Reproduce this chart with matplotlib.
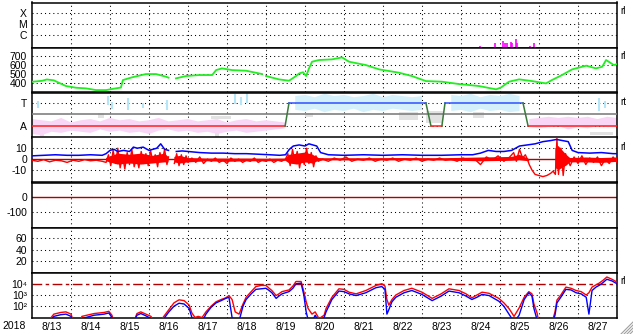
import numpy as np
import matplotlib.pyplot as plt
from matplotlib.lines import Line2D
from matplotlib.ticker import NullLocator

plt.rcParams['font.family'] = ['Liberation Sans', 'DejaVu Sans']

nan = np.nan

# time axis: days since 2018-08-13 00:00
day_labels = ['8/13', '8/14', '8/15', '8/16', '8/17', '8/18', '8/19', '8/20',
              '8/21', '8/22', '8/23', '8/24', '8/25', '8/26', '8/27']

# x-ray flare events (peak flux, W/m2)
flare_t = [11.49, 11.87, 12.08, 12.13, 12.18, 12.28, 12.31, 12.41, 12.44, 12.77, 12.87]
flare_v = [1.0e-7, 1.7e-7, 3.0e-7, 2.0e-7, 1.7e-7, 2.5e-7, 1.7e-7, 4.0e-7, 2.0e-7, 1.1e-7, 2.0e-7]

# solar wind speed (km/s)
sw_t = [0, 0.26, 0.38, 0.56, 0.69, 0.87, 1.13, 1.38, 1.64, 1.9,
        2.15, 2.28, 2.33, 2.56, 2.92, 3.18, 3.44, 3.5, 3.55, 3.69,
        3.95, 4.28, 4.62, 4.72, 4.87, 5.13, 5.49, 5.9, 5.95, 6.0,
        6.33, 6.59, 6.77, 6.85, 6.95, 7.03, 7.1, 7.18, 7.36, 7.69,
        7.95, 8.13, 8.56, 8.9, 9.41, 9.74, 10.1, 10.51, 10.95, 11.46,
        11.9, 12.03, 12.23, 12.49, 12.82, 13.18, 13.33, 13.59, 13.85, 14.21,
        14.46, 14.62, 14.72, 14.92, 15.0]
sw_v = [414, 425, 440, 430, 403, 367, 348, 341, 322, 322,
        341, 350, 433, 463, 500, 500, 470, 460, nan, 452,
        478, 489, 489, 544, 563, 544, 537, 500, nan, 478,
        441, 426, 478, 507, 520, 478, 560, 637, 656, 663,
        685, 637, 600, 552, 515, 478, 422, 415, 389, 367,
        330, 352, 415, 441, 422, 396, 433, 489, 552, 593,
        563, 581, 656, 600, 610]

# IMF sector: 1 = away, 3 = toward
sector_t = [0, 6.49, 6.59, 10.1, 10.23, 10.51, 10.59, 12.59, 12.72, 15]
sector_v = [1, 1, 3, 3, 1, 1, 3, 3, 1, 1]

# sector angle clouds on a 6-hour grid
cloud_t = np.arange(0, 15.01, 0.25)
pink_lo = [0.3, 0.2, 0.5, 0.4, 0.6, 0.5, 0.4, 0.7, 0.5, 0.6, 0.4, 0.5, 0.3, 0.6,
           0.7, 0.5, 0.6, 0.4, 0.5, 0.3, 0.5, 0.6, 0.4, 0.5, 0.6, 0.7, 0.8] + [nan] * 24 + \
          [0.9, 0.8, 0.9, 1.0, 0.7, 0.9, 0.8, 1.0, 0.9, 0.9]
pink_hi = [1.6, 1.5, 1.4, 1.7, 1.3, 1.5, 1.6, 1.4, 1.7, 1.5, 1.6, 1.4, 1.5, 1.7,
           1.4, 1.5, 1.6, 1.4, 1.5, 1.6, 1.3, 1.5, 1.6, 1.4, 1.5, 1.4, 1.3] + [nan] * 24 + \
          [1.6, 1.7, 1.8, 1.7, 1.8, 1.7, 1.8, 1.6, 1.8, 1.7]
cyan_lo = [nan] * 27 + [2.4, 2.3, 2.5, 2.2, 2.4, 2.3, 2.5, 2.2, 2.4, 2.3, 2.5, 2.4, 2.3, 2.4] + \
          [nan] * 2 + [2.3, 2.4, 2.2, 2.5, 2.3, 2.4, 2.2, 2.3] + [nan] * 10
cyan_hi = [nan] * 27 + [3.6, 3.7, 3.5, 3.8, 3.6, 3.7, 3.5, 3.6, 3.8, 3.5, 3.7, 3.6, 3.5, 3.6] + \
          [nan] * 2 + [3.7, 3.6, 3.8, 3.5, 3.7, 3.6, 3.8, 3.6] + [nan] * 10
cyan_spk_t = [0.15, 1.95, 2.05, 2.45, 2.85, 3.45, 5.2, 5.35, 5.5, 14.55, 14.7]
cyan_spk_lo = [2.6, 2.8, 2.5, 2.4, 2.6, 2.4, 2.9, 2.8, 3.0, 2.3, 2.6]
cyan_spk_hi = [3.2, 3.6, 3.1, 3.4, 3.0, 3.3, 3.8, 3.5, 3.9, 3.4, 3.2]
gray_t0 = [0.2, 1.7, 4.6, 4.7, 7.0, 9.4, 10.1, 11.3, 14.3]
gray_t1 = [0.3, 1.85, 5.1, 4.8, 7.2, 9.9, 10.55, 11.6, 14.9]
gray_lo = [0.1, 1.7, 1.6, 0.0, 1.8, 1.5, 1.3, 1.7, 0.2]
gray_hi = [0.6, 2.1, 1.9, 0.4, 2.1, 2.2, 2.3, 2.2, 0.5]

# IMF Bt (nT)
bt_t = [0, 0.3, 0.6, 0.9, 1.2, 1.5, 1.8, 1.9, 2.0, 2.1,
        2.2, 2.35, 2.5, 2.6, 2.7, 2.85, 3.0, 3.1, 3.2, 3.3,
        3.4, 3.5, 3.55, 3.7, 3.85, 4.0, 4.3, 4.6, 4.9, 5.2,
        5.5, 5.8, 6.1, 6.35, 6.5, 6.6, 6.7, 6.85, 7.0, 7.1,
        7.2, 7.3, 7.4, 7.6, 8.0, 8.5, 9.0, 9.5, 10.0, 10.5,
        11.0, 11.3, 11.5, 11.7, 11.9, 12.1, 12.3, 12.5, 12.7, 12.9,
        13.1, 13.3, 13.45, 13.6, 13.75, 13.85, 14.0, 14.3, 14.6, 14.9, 15.0]
bt_v = [3, 3.5, 4, 3.5, 3.5, 4, 3.5, 5, 8, 9,
        7, 8, 7, 11, 10, 11, 8, 9, 10, 14,
        9, 8, nan, 7, 7.5, 7, 6, 5.5, 5.5, 5,
        5, 4.5, 4, 3.5, 4, 9, 12, 13, 12, 14,
        13, 12, 6, 4, 3.5, 4, 3.5, 4, 3.5, 3.5,
        4, 4, 5.5, 8, 7, 7, 8, 12, 13, 14,
        16, 17, 18, 17, 16, 8, 6, 5.5, 6, 5, 5]

# IMF Bz (nT)
bz_t = [0, 0.15, 0.3, 0.45, 0.6, 0.75, 0.9, 1.05, 1.2, 1.35, 1.5, 1.65, 1.8,
        1.9, 1.96, 2.02, 2.08, 2.14, 2.2, 2.26, 2.32, 2.38, 2.44,
        2.5, 2.56, 2.62, 2.68, 2.74, 2.8, 2.86, 2.92, 2.98, 3.04,
        3.1, 3.16, 3.22, 3.28, 3.34, 3.4, 3.46, 3.5, 3.58, 3.65,
        3.71, 3.77, 3.83, 3.89, 3.95, 4.0,
        4.1, 4.2, 4.3, 4.4, 4.5, 4.6, 4.7, 4.8, 4.9, 5.0, 5.1, 5.2, 5.3,
        5.4, 5.5, 5.6, 5.7, 5.8, 5.9, 6.0, 6.1, 6.2, 6.3, 6.4, 6.5,
        6.56, 6.62, 6.68, 6.74, 6.8, 6.86, 6.92, 6.98, 7.04, 7.1, 7.16, 7.22, 7.28, 7.34,
        7.45, 7.6, 7.75, 7.9, 8.05, 8.2, 8.35, 8.5, 8.65, 8.8, 8.95, 9.1, 9.25,
        9.4, 9.55, 9.7, 9.85, 10.0, 10.15, 10.3, 10.45, 10.6, 10.75, 10.9, 11.05,
        11.2, 11.35, 11.5, 11.65, 11.8, 11.95, 12.1, 12.25,
        12.35, 12.42, 12.5, 12.58, 12.65, 12.7, 12.75, 12.82,
        12.9, 13.0, 13.1, 13.2, 13.3, 13.36, 13.42, 13.46, 13.5, 13.56, 13.62, 13.68, 13.74, 13.8,
        13.9, 14.0, 14.1, 14.2, 14.3, 14.4, 14.5, 14.6, 14.7, 14.8, 14.9, 15.0]
bz_v = [-1, -2, -0.5, -2.5, -1, -1.5, -3, -1, -2, -0.5, -1.5, -1, -2,
        -3, 4, -6, 8, -4, 10, -8, 3, -9, 6,
        -5, 9, -7, 2, -8, 7, -4, 5, -6, 8,
        -3, 4, -7, 6, -2, 9, -5, 2, nan, -4,
        5, -6, 4, -5, 3, -3,
        1, -3, 2, -4, 0, -2, 1, -3, -1, -4, 1, -2, 0,
        -3, -1, -2, 1, -3, -1, -2, 0, -3, -1, -2, 0,
        5, -6, 9, -3, 7, -8, 4, -5, 10, -4, 6, -7, 3, -2,
        0, -2, 1, -1, 2, -2, 0, -1, 1, -2, 0, -1, 1,
        -2, 0, -1, 1, -2, 0, -1, 1, -1, 0, -2, 1,
        -1, 0, -5, 2, -1, 3, -2, 2,
        6, -2, 9, 1, 4, 0, -5, -10,
        -14, -15, -16, -15, -13, -11, -14, 19, -14, 10, -15, 5, -1, -6,
        2, -4, 3, -5, 1, -3, 2, -6, 0, -4, 2, -3]
# dense core of the Bz scatter
bzenv_t = [1.9, 2.2, 2.5, 2.8, 3.1, 3.4, 3.5, 3.55, 3.65, 3.8,
           4.0, 4.5, 5.0, 5.5, 6.0, 6.5, 6.6, 6.8, 7.0, 7.2,
           7.35, 7.5, 8.5, 9.5, 10.5, 11.5, 12.3, 12.5, 12.75, 12.8,
           13.42, 13.5, 13.7, 13.8, 14.2, 14.6, 15.0]
bzenv_lo = [-2, -5, -4, -5, -4, -3, -3, nan, -3, -4,
            -3, -2, -2.5, -2, -2, -1.5, -4, -5, -3, -4,
            -1.5, -1, -1.2, -1, -1.2, -2, -1.5, -1, -2, nan,
            -8, -10, -6, -3, -3, -3.5, -2.5]
bzenv_hi = [1, 5, 4, 5, 3, 5, 2, nan, 2, 3,
            1, 0.5, 0.5, 0.5, 0.3, 0.5, 4, 5, 6, 4,
            1, 0.8, 0.8, 1, 0.8, 1.5, 2, 4, 0, nan,
            10, 12, 4, 1, 1.5, 1, 1.5]

# electron flux, log10 (values below 1 fall under the panel)
ef_t = [0, 0.45, 0.49, 0.56, 0.74, 0.87, 1.0, 1.05, 1.2, 1.28,
        1.59, 1.85, 1.97, 2.05, 2.1, 2.6, 2.69, 2.79, 2.92, 3.05,
        3.13, 3.26, 3.38, 3.51, 3.64, 3.77, 3.9, 4.03, 4.1, 4.18,
        4.26, 4.36, 4.46, 4.59, 4.72, 4.85, 4.97, 5.05, 5.13, 5.21,
        5.31, 5.41, 5.49, 5.62, 5.74, 5.87, 6.0, 6.08, 6.15, 6.26,
        6.33, 6.41, 6.59, 6.69, 6.77, 6.9, 6.97, 7.03, 7.08, 7.18,
        7.26, 7.36, 7.49, 7.54, 7.69, 7.87, 8.0, 8.13, 8.31, 8.56,
        8.82, 8.97, 9.05, 9.1, 9.15, 9.23, 9.33, 9.54, 9.74, 10.0,
        10.26, 10.49, 10.69, 10.95, 11.13, 11.28, 11.41, 11.54, 11.72, 11.97,
        12.1, 12.23, 12.36, 12.49, 12.62, 12.74, 12.82, 12.87, 12.95, 13.0,
        13.33, 13.41, 13.46, 13.56, 13.69, 13.82, 13.95, 14.08, 14.21, 14.28,
        14.36, 14.46, 14.54, 14.64, 14.74, 14.87, 15.0]
ef_red = [0.5, 0.5, 1.0, 1.3, 1.45, 1.5, 1.3, 0.8, 0.5, 1.1,
          1.35, 1.45, 1.55, 1.2, 0.5, 0.5, 1.35, 1.5, 1.3, 1.1,
          0.6, 0.5, 1.1, 1.7, 2.3, 2.57, 2.5, 2.1, 1.4, 1.0,
          1.1, 1.0, 1.5, 2.0, 2.4, 2.6, 2.75, 2.95, 2.6, 1.5,
          1.3, 2.2, 2.8, 3.3, 3.75, 3.85, 3.85, 3.6, 3.4, 2.95,
          3.1, 3.3, 3.45, 3.8, 4.2, 4.2, 3.3, 2.4, 1.8, 1.3,
          1.5, 0.9, 1.2, 1.8, 2.8, 3.55, 3.5, 3.25, 3.1, 3.4,
          3.85, 4.0, 3.8, 2.6, 2.1, 2.6, 3.0, 3.4, 3.6, 3.25,
          2.7, 3.1, 3.55, 3.4, 3.1, 2.75, 3.0, 3.25, 3.15, 2.7,
          2.3, 1.8, 1.1, 1.85, 2.8, 3.3, 3.1, 2.2, 1.4, 0.5,
          0.5, 1.5, 2.55, 3.0, 3.7, 3.6, 3.4, 3.3, 3.0, 3.2,
          3.7, 3.9, 4.05, 4.3, 4.6, 4.4, 4.15]
ef_blue = [0.5, 0.5, 0.8, 1.1, 1.25, 1.3, 1.1, 0.6, 0.5, 0.9,
           1.2, 1.3, 1.4, 1.0, 0.5, 0.5, 1.2, 1.35, 1.15, 0.9,
           0.5, 0.5, 0.9, 1.5, 2.0, 2.27, 2.2, 1.8, 1.0, 0.7,
           0.9, 0.6, 1.3, 1.9, 2.3, 2.5, 2.7, 2.8, 1.0, 0.8,
           0.7, 2.0, 2.6, 3.1, 3.5, 3.55, 3.6, 3.4, 3.2, 2.7,
           2.9, 3.1, 3.3, 3.6, 4.0, 4.05, 3.0, 1.5, 0.8, 0.6,
           1.2, 0.6, 1.0, 1.5, 2.6, 3.35, 3.3, 3.1, 2.95, 3.2,
           3.65, 3.75, 3.5, 1.3, 1.7, 2.4, 2.8, 3.2, 3.4, 3.05,
           2.5, 2.9, 3.35, 3.2, 2.9, 2.6, 2.8, 3.05, 2.95, 2.45,
           2.0, 1.3, 0.6, 1.2, 2.6, 3.2, 2.9, 1.8, 0.8, 0.5,
           0.5, 1.2, 2.3, 2.8, 3.5, 3.45, 3.2, 3.1, 2.8, 1.3,
           3.4, 3.7, 3.85, 4.1, 4.4, 4.25, 4.0]

# ---- figure ----
W, H = 633, 334
fig = plt.figure(figsize=(W / 100, H / 100), dpi=100)
x0, x1, top, ph = 32, 617, 2.5, 45
dotted = (0, (1, 3))
darkred = '#b00000'


def make_panel(i, ylim, yticks, ylabels, grid_vals, log=False):
    ax = fig.add_axes([x0 / W, 1 - (top + ph * (i + 1)) / H, (x1 - x0) / W, ph / H])
    if log:
        ax.set_yscale('log')
    ax.set_xlim(0, 15)
    ax.set_ylim(*ylim)
    ax.set_yticks(yticks)
    ax.set_yticklabels(ylabels)
    ax.yaxis.set_minor_locator(NullLocator())
    ax.set_xticks(range(1, 15))
    ax.set_xticklabels([])
    ax.tick_params(length=0, labelsize=7.5, pad=3.5)
    for d in range(1, 15):
        ax.axvline(d, color='k', ls=dotted, lw=0.75, zorder=1)
    for g in grid_vals:
        ax.axhline(g, color='k', ls=dotted, lw=0.75, zorder=1)
    for s in ax.spines.values():
        s.set_linewidth(1.1)
    return ax


# panel 1: x-ray flares
ax1 = make_panel(0, (7.3e-8, 9e-4), [1e-4, 1e-5, 1e-6], ['X', 'M', 'C'],
                 [1e-4, 1e-5, 1e-6], log=True)
ax1.vlines(flare_t, 7.3e-8, flare_v, color='#ff00ff', lw=1.2, zorder=3)

# panel 2: solar wind speed
ax2 = make_panel(1, (295, 795), [400, 500, 600, 700], ['400', '500', '600', '700'],
                 [400, 500, 600, 700])
ax2.plot(sw_t, sw_v, color='#22ee22', lw=1.3, zorder=3)

# panel 3: sector
ax3 = make_panel(2, (0, 3.91), [3, 1], ['T', 'A'], [3, 1])
for a, b, lo, hi in zip(gray_t0, gray_t1, gray_lo, gray_hi):
    ax3.fill_between([a, b], lo, hi, color='#e2e2e2', lw=0, zorder=2)
ax3.fill_between(cloud_t, pink_lo, pink_hi, color='#f9d6f5', lw=0, zorder=2)
ax3.fill_between(cloud_t, cyan_lo, cyan_hi, color='#d4f1fb', lw=0, zorder=2)
ax3.vlines(cyan_spk_t, cyan_spk_lo, cyan_spk_hi, color='#b4e6f8', lw=1.5, zorder=2)
ax3.axhline(2, color='#808080', lw=1.2, zorder=3)
for k in range(len(sector_t) - 1):
    va, vb = sector_v[k], sector_v[k + 1]
    c = '#ff2020' if va == vb == 1 else ('#3050ff' if va == vb == 3 else '#3a7a3a')
    ax3.plot(sector_t[k:k + 2], sector_v[k:k + 2], color=c, lw=1.1, zorder=4)

# panel 4: IMF
ax4 = make_panel(3, (-21.4, 19.8), [10, 0, -10], ['10', '0', '-10'], [10, -10])
ax4.axhline(0, color=darkred, lw=1.0, zorder=2)
ax4.fill_between(bzenv_t, bzenv_lo, bzenv_hi, color='#ff0000', lw=0, zorder=3)
ax4.plot(bz_t, bz_v, color='#ff0000', lw=1.0, zorder=3)
ax4.plot(bt_t, bt_v, color='#0000ff', lw=1.1, zorder=4)

# panel 5: Dst
ax5 = make_panel(4, (-201, 99), [0, -100], ['0', '-100'], [-100])
ax5.axhline(0, color=darkred, lw=1.0, zorder=2)

# panel 6
ax6 = make_panel(5, (-1, 79.3), [60, 40, 20], ['60', '40', '20'], [60, 40, 20])

# panel 7: electron flux
ax7 = make_panel(6, (10, 1e5), [1e4, 1e3, 1e2], ['10\u2074', '10\u00b3', '10\u00b2'],
                 [1e3, 1e2], log=True)
ax7.axhline(1e4, color=darkred, lw=1.0, dashes=(7, 2.5, 2.5, 2.5), zorder=2)
ax7.plot(ef_t, 10 ** np.array(ef_red), color='#ff0000', lw=1.0, zorder=3)
ax7.plot(ef_t, 10 ** np.array(ef_blue), color='#0000ff', lw=1.0, zorder=4)
ax7.set_xticks(np.arange(15) + 0.5, minor=True)
ax7.set_xticklabels(day_labels, minor=True)
ax7.tick_params(which='minor', length=0, labelsize=7.5, pad=3)

fig.text(2 / W, 1 - 326 / H, '2018', fontsize=7.5, va='center', ha='left')

# small marks at the right edge of some panels
for ax, lab, yy in [(ax1, 'rl', 0.82), (ax2, 'rl', 0.82), (ax3, 'rt', 0.8),
                    (ax4, 'rl', 0.78), (ax7, 'rl', 0.8)]:
    ax.text(1.006, yy, lab, transform=ax.transAxes, fontsize=7, va='center', ha='left')

# window resize grip
for k in (3, 6, 9, 12):
    fig.add_artist(Line2D([(W - k) / W, 1], [0, k / H], color='#a0a0a0', lw=0.8))

fig.savefig('out.png', dpi=100)
